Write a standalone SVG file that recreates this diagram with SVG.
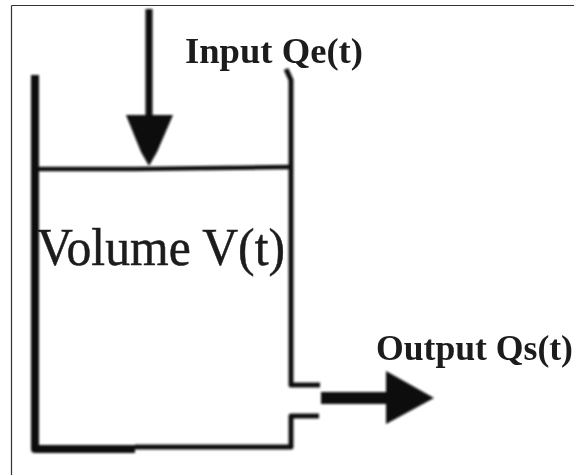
<svg xmlns="http://www.w3.org/2000/svg" width="574" height="475" viewBox="0 0 574 475">
  <defs>
    <filter id="soft" x="-10%" y="-10%" width="120%" height="120%"><feGaussianBlur stdDeviation="0.9"/></filter>
    <filter id="softtext" x="-5%" y="-20%" width="110%" height="140%"><feGaussianBlur stdDeviation="0.6"/></filter>
  </defs>
  <style>
    .wall { fill: none; stroke: #111111; stroke-linejoin: round; stroke-linecap: butt; }
    .arrow { fill: #0a0a0a; stroke: none; }
    .shaft { fill: none; stroke: #0a0a0a; }
    .label { font-family: "Liberation Serif", "Times New Roman", serif; fill: #1c1c1c; }
    .bold { font-weight: 700; font-size: 35px; }
  </style>
  <rect x="0" y="0" width="574" height="475" fill="#ffffff"/>
  <path d="M11.5 5.5H574M11.5 5.5V475" fill="none" stroke="#333333" stroke-width="1.2"/>
  <g id="connectors" filter="url(#soft)">
    <g id="input-arrow">
      <path class="shaft" stroke-width="7" d="M149 9V118"/>
      <path class="arrow" d="M126 115H173L157 152L149 166L141 152Z"/>
    </g>
    <g id="output-arrow">
      <path class="shaft" stroke-width="12" d="M321 398H392"/>
      <path class="arrow" d="M386 371L434 398L386 424Z"/>
    </g>
  </g>
  <g id="tank" filter="url(#soft)">
    <path class="wall" stroke-width="8" d="M35 75V449H135"/>
    <path class="wall" stroke-width="5" d="M135 447H291V416H319"/>
    <path class="wall" stroke-width="5" d="M286 69L291 80V385H320"/>
    <path class="wall" stroke-width="4.5" d="M36 169H135L291 167"/>
  </g>
  <g filter="url(#softtext)">
    <g id="label-input"><text class="label bold" x="185" y="63" textLength="178" lengthAdjust="spacingAndGlyphs">Input Qe(t)</text></g>
    <g id="label-volume"><text class="label" x="37" y="265" font-size="53" stroke="#1c1c1c" stroke-width="0.5" textLength="248" lengthAdjust="spacingAndGlyphs">Volume V(t)</text></g>
    <g id="label-output"><text class="label bold" x="376" y="360" textLength="197" lengthAdjust="spacingAndGlyphs">Output Qs(t)</text></g>
  </g>
</svg>
